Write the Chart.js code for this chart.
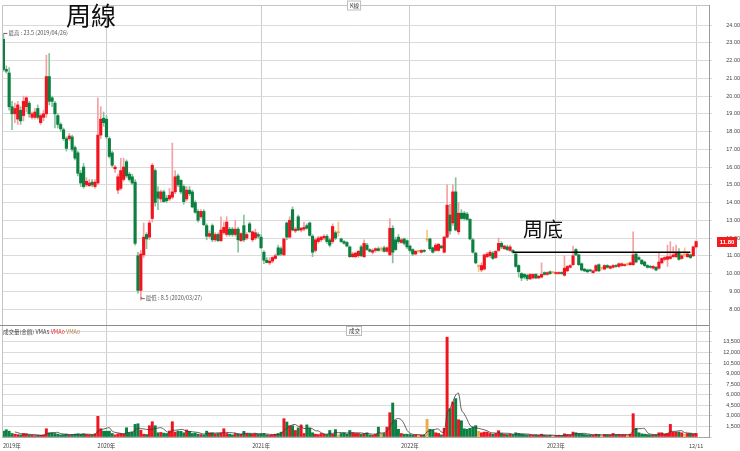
<!DOCTYPE html>
<html>
<head>
<meta charset="utf-8">
<script src="https://cdn.jsdelivr.net/npm/chart.js@4.4.1/dist/chart.umd.min.js"></script>
<style>
  html, body { margin: 0; padding: 0; background: #fff; }
  #wrap { position: relative; width: 740px; height: 451px; overflow: hidden; }
  #priceBox { position: absolute; left: 0; top: 0; width: 740px; height: 325px; }
  #volBox { position: absolute; left: 0; top: 325px; width: 740px; height: 126px; }
</style>
</head>
<body>
<div id="wrap">
  <div id="priceBox"><canvas id="price"></canvas></div>
  <div id="volBox"><canvas id="vol"></canvas></div>
</div>
<script>
// weekly candles: [open, high, low, close]
const candles = [
  [23.2,23.5,21.4,21.5],[21.5,21.7,21.3,21.4],[21.3,21.6,19.2,19.4],[19.4,19.7,18.1,19.0],[19.0,19.6,18.5,19.3],
  [18.7,19.7,18.4,19.5],[19.2,19.4,18.4,18.6],[18.9,20.0,18.6,19.7],[19.4,20.0,19.1,19.9],[19.6,19.7,18.8,19.0],
  [18.8,19.1,18.7,19.0],[18.8,19.3,18.7,19.1],[19.3,19.5,18.7,18.8],[18.5,19.0,18.4,18.9],[18.8,19.2,18.6,19.0],
  [19.0,22.3,18.8,21.1],[21.1,22.4,19.5,19.7],[19.9,20.0,19.4,19.7],[19.6,19.7,18.2,19.0],[18.9,19.0,18.2,18.4],
  [18.4,18.5,18.0,18.15],[18.1,18.2,17.5,17.6],[17.6,17.7,16.9,17.05],[17.6,17.9,17.5,17.75],[17.7,17.8,16.9,17.0],
  [17.1,17.2,16.4,16.5],[16.8,16.9,15.5,15.65],[15.65,15.8,14.9,15.1],[16.0,16.2,14.8,14.9],[15.0,15.4,14.9,15.2],
  [14.95,15.3,14.9,15.1],[15.15,15.3,14.9,15.0],[14.9,15.3,14.8,15.15],[15.1,19.9,15.0,17.8],[17.8,19.4,17.6,18.7],
  [18.75,19.1,18.3,18.5],[18.7,18.9,17.6,17.7],[17.6,17.7,16.5,16.6],[16.8,16.9,16.0,16.1],[15.9,16.1,15.7,16.0],
  [14.7,15.6,14.5,15.45],[14.8,16.5,14.7,15.8],[15.3,16.5,15.2,16.0],[16.3,16.4,15.4,15.5],[15.6,15.7,15.2,15.3],
  [15.45,15.6,15.0,15.1],[15.15,15.3,11.6,11.7],[11.0,11.2,8.9,9.05],[9.05,11.3,8.5,11.1],[11.05,12.85,10.9,12.05],
  [12.2,12.3,11.4,11.95],[12.05,13.0,11.9,12.85],[13.1,16.2,12.9,16.1],[15.8,15.9,13.8,14.0],[14.6,14.9,13.6,14.25],
  [14.2,14.7,14.0,14.6],[14.6,14.7,14.0,14.05],[14.25,14.4,14.0,14.1],[14.2,14.8,14.1,14.4],[14.3,17.35,14.2,14.6],
  [14.6,15.8,14.5,15.45],[15.5,15.6,14.9,15.0],[15.25,15.3,14.5,14.6],[14.9,15.0,13.9,14.05],[14.2,14.9,14.1,14.7],
  [14.7,14.9,14.4,14.5],[14.6,14.7,13.7,13.75],[14.0,14.1,13.4,13.45],[13.5,13.6,12.9,13.0],[13.2,13.6,13.1,13.5],
  [13.5,13.6,12.7,12.75],[12.7,12.8,11.9,12.1],[12.1,12.4,12.0,12.25],[12.7,12.8,11.8,11.9],[11.9,12.3,11.8,12.2],
  [12.2,12.3,11.8,11.85],[11.85,13.2,11.8,12.45],[12.3,12.9,12.2,12.6],[12.2,13.2,12.1,12.9],[12.5,12.6,12.1,12.2],
  [12.5,12.6,12.1,12.2],[12.2,13.0,12.1,12.5],[12.5,12.6,11.2,11.9],[11.85,12.3,11.8,12.25],[12.7,13.3,11.8,11.9],
  [12.0,12.3,11.9,12.2],[12.8,12.9,12.3,12.35],[11.9,12.4,11.8,12.35],[12.0,12.5,11.9,12.3],[12.2,12.3,12.0,12.1],
  [12.05,12.2,11.4,11.45],[11.2,11.3,10.55,10.75],[10.75,10.9,10.6,10.62],[10.6,10.9,10.5,10.7],[10.7,10.95,10.6,10.9],
  [10.85,11.1,10.8,11.0],[11.45,11.6,11.0,11.05],[11.4,11.5,11.0,11.1],[11.05,12.0,11.0,11.95],[12.85,12.9,11.9,12.05],
  [12.05,13.2,12.0,13.0],[13.6,13.75,12.4,12.45],[12.4,12.6,12.3,12.5],[13.2,13.3,12.4,12.45],[12.45,12.6,12.35,12.55],
  [12.5,12.9,12.4,12.6],[12.7,12.8,12.5,12.55],[12.85,12.9,12.1,12.15],[12.1,12.2,10.95,11.2],[11.3,12.0,11.2,11.9],
  [11.8,12.1,11.7,12.0],[11.9,12.1,11.8,12.05],[12.0,12.2,11.9,12.1],[12.1,12.2,11.7,11.8],[11.9,12.0,11.5,11.6],
  [11.8,12.8,11.7,12.65],[12.3,12.4,11.9,12.0],[12.3,12.9,12.1,12.3],[11.95,12.0,11.75,11.8],[11.8,11.85,11.65,11.7],
  [11.75,11.8,11.5,11.55],[11.5,11.55,10.9,10.95],[10.95,11.2,10.9,11.1],[10.95,11.2,10.9,11.15],[11.0,11.3,10.9,11.25],
  [11.5,11.6,10.95,11.0],[10.95,11.9,10.9,11.7],[11.6,11.7,11.3,11.35],[11.35,11.4,11.2,11.25],[11.2,11.4,11.1,11.3],
  [11.3,11.45,11.2,11.4],[11.4,11.5,11.25,11.3],[11.35,11.5,11.25,11.35],[11.45,11.55,11.2,11.25],[11.25,11.5,11.2,11.45],
  [11.05,13.1,11.0,12.55],[12.55,12.7,10.6,11.2],[11.9,12.05,11.3,11.35],[12.05,12.2,11.7,11.8],[11.75,12.0,11.7,11.9],
  [11.95,12.0,11.6,11.7],[11.85,11.9,11.4,11.5],[11.55,11.6,11.2,11.3],[11.35,11.4,11.0,11.1],[11.1,11.3,11.05,11.25],
  [11.25,11.3,11.2,11.25],[11.2,11.35,11.15,11.3],[11.3,11.35,11.2,11.25],[11.9,12.45,11.8,11.9],[11.95,12.0,11.3,11.4],
  [11.45,11.5,11.15,11.2],[11.3,11.7,11.25,11.6],[11.3,11.7,11.25,11.65],[11.55,11.6,11.4,11.45],[11.2,12.1,11.15,12.05],
  [12.05,15.0,12.0,13.85],[13.3,13.9,12.2,12.4],[12.85,15.0,12.7,14.6],[14.6,15.4,12.4,12.45],[12.35,14.0,12.2,13.4],
  [13.4,13.6,13.05,13.1],[13.4,13.5,13.0,13.1],[13.35,13.45,13.0,13.05],[13.05,13.1,11.9,11.95],[11.9,12.0,11.15,11.2],
  [11.15,11.2,10.55,10.6],[10.4,10.5,10.1,10.4],[10.2,10.6,10.1,10.45],[10.25,11.1,10.2,11.05],[10.95,11.2,10.9,11.1],
  [11.0,11.3,10.9,11.2],[11.15,11.25,10.8,10.85],[10.9,11.3,10.85,11.25],[11.3,12.0,11.25,11.7],[11.7,11.8,11.4,11.5],
  [11.4,11.6,11.35,11.55],[11.5,11.6,11.3,11.35],[11.3,11.6,11.25,11.5],[11.3,11.35,11.15,11.2],[11.1,11.15,10.35,10.4],
  [10.45,10.5,9.8,10.1],[10.0,10.05,9.6,9.75],[9.95,10.0,9.7,9.8],[9.9,9.95,9.6,9.7],[9.7,10.0,9.65,9.95],
  [9.75,10.0,9.7,9.95],[9.95,10.0,9.7,9.75],[9.75,9.9,9.7,9.85],[9.8,10.6,9.75,9.95],[10.05,10.1,9.9,9.95],
  [9.95,10.1,9.9,10.05],[10.1,10.15,9.95,10.0],[10.05,10.1,10.0,10.05],[10.0,10.1,9.95,10.05],[10.0,10.1,9.95,10.05],
  [10.05,10.1,9.95,10.0],[9.9,11.0,9.85,10.3],[10.15,10.45,10.1,10.4],[10.35,10.5,10.3,10.45],[10.5,11.55,10.45,11.0],
  [11.35,11.4,11.0,11.05],[11.05,11.1,10.45,10.5],[10.55,10.6,10.15,10.2],[10.25,10.3,10.1,10.15],[10.2,10.25,10.05,10.1],
  [10.2,10.25,10.1,10.15],[10.05,10.2,10.0,10.15],[10.15,10.5,10.1,10.45],[10.5,10.55,10.1,10.15],[10.3,10.35,10.2,10.3],
  [10.25,10.5,10.2,10.45],[10.45,10.5,10.3,10.35],[10.3,10.45,10.25,10.4],[10.35,10.5,10.3,10.45],[10.45,10.5,10.35,10.4],
  [10.4,10.6,10.35,10.55],[10.45,10.6,10.4,10.55],[10.45,10.55,10.4,10.5],[10.5,10.6,10.45,10.5],[10.5,10.65,10.45,10.6],
  [10.5,12.35,10.45,11.05],[11.1,11.2,10.6,10.65],[10.9,10.95,10.75,10.8],[10.75,10.8,10.5,10.55],[10.65,10.7,10.4,10.45],
  [10.45,10.5,10.3,10.35],[10.4,10.45,10.3,10.35],[10.3,10.45,10.25,10.4],[10.35,10.4,10.15,10.2],[10.3,11.15,10.25,10.65],
  [10.6,10.9,10.55,10.85],[10.8,10.95,10.7,10.9],[10.8,11.6,10.4,10.95],[10.85,11.8,10.8,10.95],[10.95,11.5,10.9,11.05],
  [10.95,11.6,10.9,11.2],[11.2,11.4,10.75,10.8],[10.85,11.1,10.8,11.0],[11.05,11.45,10.95,11.05],[10.95,11.15,10.9,11.1],
  [11.05,11.1,10.85,10.9],[11.0,11.55,10.95,11.5],[11.5,11.85,11.45,11.8]
];

// weekly turnover (成交量 金額)
const volumes = [
  830,1030,830,500,400,350,300,500,450,300,
  250,200,250,250,300,1170,600,600,500,400,
  300,350,400,300,350,400,450,400,450,350,
  300,300,450,2930,1170,830,830,830,500,300,
  450,500,450,1310,600,700,1790,1880,960,400,
  350,1600,2170,1600,600,650,550,500,850,2170,
  700,830,800,600,1000,800,500,550,400,350,
  300,830,600,600,450,500,600,1170,500,400,
  300,500,450,400,800,500,450,400,500,400,
  450,500,300,250,300,400,500,690,2600,2130,
  1600,1600,930,1300,1720,500,1720,1240,600,400,
  350,500,400,350,930,400,1050,300,500,600,
  400,930,600,500,500,400,500,600,300,250,
  400,1400,500,500,1400,3450,4830,2360,1100,500,
  400,400,350,300,300,300,250,300,2500,1100,
  1000,600,500,300,1240,14170,4030,4970,5460,2450,
  2310,1170,1100,1240,1380,1620,800,600,700,700,
  500,400,500,900,500,400,350,400,350,600,
  500,400,350,300,300,250,300,250,400,250,
  200,250,200,200,250,200,450,350,300,700,
  600,500,450,350,300,300,250,400,350,250,
  350,300,300,500,300,350,300,300,350,400,
  3310,1240,600,450,400,350,300,300,300,600,
  600,400,500,1790,700,700,700,600,400,500,
  500,400,500
];

const priceTicks = [8, 9, 10, 11, 12, 13, 14, 15, 16, 17, 18, 19, 20, 21, 22, 23, 24];
const volTicks = [0, 1500, 3000, 4500, 6000, 7500, 9000, 10500, 12000, 13500, 15000];
const xMarks = [[0, '2019年'], [36, '2020年'], [90, '2021年'], [142, '2022年'], [193, '2023年'], [242, '12/11']];
const bottomLine = { from: 178, to: 240, price: 11.2 };
const firstWeek = Date.UTC(2019, 3, 26);
const blankSlots = 4;

const weeks = [];
for (let i = 0; i < candles.length + blankSlots; i++) {
  if (i >= candles.length) { weeks.push('pad' + i); continue; }
  const d = new Date(firstWeek + i * 7 * 86400000);
  weeks.push(d.getUTCFullYear() + '/' + String(d.getUTCMonth() + 1).padStart(2, '0') + '/' + String(d.getUTCDate()).padStart(2, '0'));
}

const UP = '#f0141e', DOWN = '#0b8040', FLAT = '#f0a848';
const UP_WICK = '#f5a0a4', DOWN_WICK = '#86c39c', FLAT_WICK = '#f5c687';
const dir = candles.map(c => c[3] > c[0] ? 1 : c[3] < c[0] ? -1 : 0);
const bodyColors = dir.map(d => d > 0 ? UP : d < 0 ? DOWN : FLAT);
const wickColors = dir.map(d => d > 0 ? UP_WICK : d < 0 ? DOWN_WICK : FLAT_WICK);

const highs = candles.map(c => c[1]);
const lows = candles.map(c => c[2]);
const vma5 = volumes.map((v, i) => i < 4 ? null : volumes.slice(i - 4, i + 1).reduce((a, b) => a + b, 0) / 5);
const lineData = weeks.map((_, i) => (i === bottomLine.from || i === bottomLine.to) ? bottomLine.price : null);

const markMap = new Map(xMarks);
const txtFont = '"Liberation Sans", Arial, sans-serif';
const cjkFont = '"Noto Sans CJK TC", "Noto Sans CJK SC", sans-serif';

Chart.defaults.font.family = txtFont;
Chart.defaults.animation = false;

function xAxis() {
  return {
    type: 'category',
    offset: true,
    grid: {
      offset: false,
      drawTicks: false,
      color: c => (c.index > 0 && markMap.has(c.index)) ? '#cdcdcd' : 'rgba(0,0,0,0)'
    },
    border: { display: false },
    ticks: { display: false }
  };
}

function rightAxis(min, max, values, pad, fmt) {
  return {
    position: 'right',
    min: min,
    max: max,
    afterBuildTicks: s => { s.ticks = values.map(v => ({ value: v })); },
    afterFit: s => { s.width = 31; s.paddingTop = 0; s.paddingBottom = 0; },
    grid: { color: '#dadada', tickLength: 3 },
    border: { color: '#9a9a9a' },
    ticks: { font: { size: 5.5 }, color: '#444', padding: pad, crossAlign: 'far', callback: fmt }
  };
}

function boxLabel(ctx, text, cx, cy) {
  ctx.font = '5.5px ' + cjkFont;
  const w = ctx.measureText(text).width + 4;
  ctx.fillStyle = '#fff';
  ctx.strokeStyle = '#bdbdbd';
  ctx.lineWidth = 1;
  ctx.fillRect(Math.round(cx - w / 2) + 0.5, cy - 4.5, w, 9);
  ctx.strokeRect(Math.round(cx - w / 2) + 0.5, cy - 4.5, w, 9);
  ctx.fillStyle = '#333';
  ctx.textAlign = 'center';
  ctx.textBaseline = 'middle';
  ctx.fillText(text, cx + 0.5, cy);
}

const priceDecor = {
  id: 'priceDecor',
  afterDraw(chart) {
    const { ctx, chartArea: a, scales: { x, y } } = chart;
    ctx.save();
    ctx.strokeStyle = '#c4c4c4';
    ctx.lineWidth = 1;
    ctx.beginPath();
    ctx.moveTo(a.left + 0.5, a.bottom);
    ctx.lineTo(a.left + 0.5, a.top + 0.5);
    ctx.lineTo(a.right, a.top + 0.5);
    ctx.stroke();

    ctx.fillStyle = '#111';
    ctx.textAlign = 'left';
    ctx.textBaseline = 'alphabetic';
    ctx.font = '25px ' + cjkFont;
    ctx.fillText('周線', 66, 25);
    ctx.font = '20px ' + cjkFont;
    ctx.fillText('周底', 523, 237);

    boxLabel(ctx, 'K線', 354, 5.5);

    // highest / lowest markers
    const iHi = highs.indexOf(Math.max(...highs));
    const iLo = lows.indexOf(Math.min(...lows));
    ctx.strokeStyle = '#666';
    ctx.fillStyle = '#555';
    ctx.textAlign = 'left';
    ctx.textBaseline = 'middle';
    ctx.font = '5.5px ' + cjkFont;
    let px = x.getPixelForValue(iHi), py = y.getPixelForValue(highs[iHi]) - 1;
    ctx.beginPath(); ctx.moveTo(px, py + 0.5); ctx.lineTo(px + 4, py + 0.5); ctx.stroke();
    ctx.fillText('最高 : ' + highs[iHi] + ' (' + weeks[iHi] + ')', px + 5, py);
    px = x.getPixelForValue(iLo); py = y.getPixelForValue(lows[iLo]);
    ctx.beginPath(); ctx.moveTo(px + 0.5, py - 3); ctx.lineTo(px + 0.5, py - 1.5); ctx.lineTo(px + 4, py - 1.5); ctx.stroke();
    ctx.fillText('最低 : ' + lows[iLo] + ' (' + weeks[iLo] + ')', px + 5, py - 2);

    // last price tag
    const last = candles[candles.length - 1][3];
    const ly = y.getPixelForValue(last);
    ctx.fillStyle = '#f21c1c';
    ctx.fillRect(717, Math.round(ly) - 5, 20, 10);
    ctx.fillStyle = '#fff';
    ctx.textAlign = 'center';
    ctx.font = 'bold 6px ' + txtFont;
    ctx.fillText(last.toFixed(2), 727, Math.round(ly));
    ctx.restore();
  }
};

const volDecor = {
  id: 'volDecor',
  afterDraw(chart) {
    const { ctx, chartArea: a, scales: { x } } = chart;
    ctx.save();
    ctx.lineWidth = 1;
    ctx.strokeStyle = '#c4c4c4';
    ctx.beginPath();
    ctx.moveTo(a.left + 0.5, a.top);
    ctx.lineTo(a.left + 0.5, a.bottom);
    ctx.stroke();
    ctx.strokeStyle = '#a8a8a8';
    ctx.beginPath();
    ctx.moveTo(a.left, a.bottom + 0.5);
    ctx.lineTo(a.right, a.bottom + 0.5);
    ctx.stroke();
    ctx.strokeStyle = '#8c8c8c';
    ctx.beginPath();
    ctx.moveTo(0, a.top + 0.5);
    ctx.lineTo(a.right, a.top + 0.5);
    ctx.stroke();

    // legend line
    ctx.font = '5.5px ' + cjkFont;
    ctx.textAlign = 'left';
    ctx.textBaseline = 'middle';
    let tx = 3;
    [['成交量(金額) VMA5 ', '#444'], ['VMA0 ', '#e8252b'], ['VMA0', '#b8844a']].forEach(([t, c]) => {
      ctx.fillStyle = c;
      ctx.fillText(t, tx, 7);
      tx += ctx.measureText(t).width;
    });

    boxLabel(ctx, '成交', 354, 6);

    // x labels
    ctx.fillStyle = '#444';
    ctx.font = '5.5px ' + cjkFont;
    ctx.textBaseline = 'middle';
    xMarks.forEach(([i, t]) => {
      if (i === 0) { ctx.textAlign = 'left'; ctx.fillText(t, a.left + 1, a.bottom + 9); }
      else { ctx.textAlign = 'center'; ctx.fillText(t, x.getPixelForValue(i), a.bottom + 9); }
    });
    ctx.restore();
  }
};

new Chart(document.getElementById('price'), {
  type: 'bar',
  data: {
    labels: weeks,
    datasets: [
      {
        type: 'line', data: lineData, borderColor: '#000', borderWidth: 1.6,
        pointRadius: 0, spanGaps: true, order: 0
      },
      {
        data: candles.map(c => [c[0], c[3]]), backgroundColor: bodyColors,
        barThickness: 2.5, minBarLength: 1, grouped: false, order: 1
      },
      {
        data: candles.map(c => [c[2], c[1]]), backgroundColor: wickColors,
        barThickness: 1, minBarLength: 1, grouped: false, order: 2
      }
    ]
  },
  options: {
    responsive: true,
    maintainAspectRatio: false,
    layout: { padding: { left: 2, top: 5, right: 0, bottom: 0 } },
    plugins: { legend: { display: false }, tooltip: { enabled: false } },
    scales: {
      x: xAxis(),
      y: rightAxis(7.1, 25.13, priceTicks, 10, v => Number(v).toFixed(2))
    }
  },
  plugins: [priceDecor]
});

new Chart(document.getElementById('vol'), {
  type: 'bar',
  data: {
    labels: weeks,
    datasets: [
      {
        type: 'line', data: vma5, borderColor: '#3c3c3c', borderWidth: 0.8,
        pointRadius: 0, tension: 0.35, order: 0
      },
      {
        data: volumes, backgroundColor: bodyColors,
        barThickness: 2.3, minBarLength: 1, grouped: false, order: 1
      }
    ]
  },
  options: {
    responsive: true,
    maintainAspectRatio: false,
    layout: { padding: { left: 2, top: 0, right: 0, bottom: 14 } },
    plugins: { legend: { display: false }, tooltip: { enabled: false } },
    scales: {
      x: xAxis(),
      y: rightAxis(0, 15900, volTicks, 7, v => (v === 0 || v === 15000) ? '' : Number(v).toLocaleString('en-US'))
    }
  },
  plugins: [volDecor]
});
</script>
</body>
</html>
